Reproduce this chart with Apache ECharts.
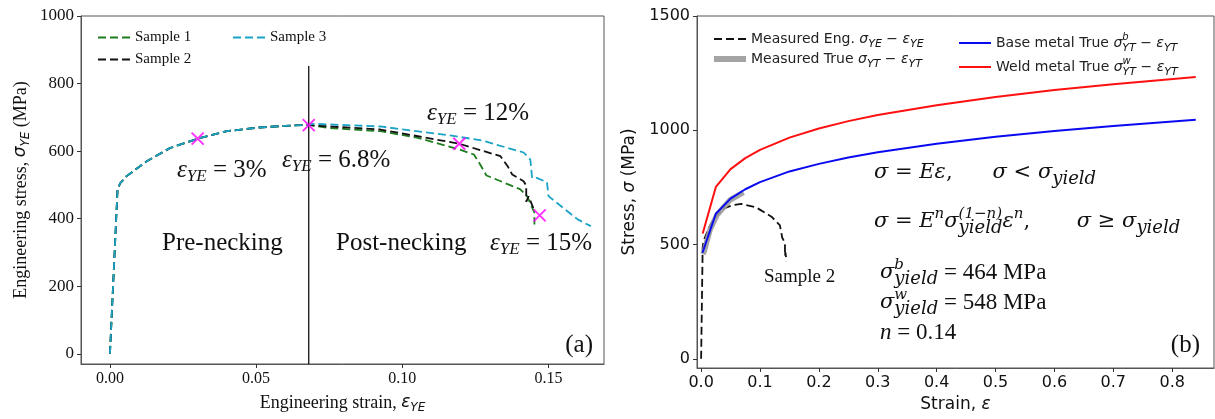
<!DOCTYPE html>
<html><head><meta charset="utf-8">
<script src="https://cdn.jsdelivr.net/npm/echarts@6/dist/echarts.min.js"></script>
<style>html,body{margin:0;padding:0;background:#fff}#c{width:1215px;height:419px}</style>
</head><body><div id="c"></div>
<script>
// ---------- Panel (a): engineering stress-strain ----------
const preStrain = [0, 0.0026, 0.0035, 0.0057, 0.0126, 0.0205, 0.0297, 0.040, 0.051, 0.060, 0.068];
const preStress = [0, 487, 505, 526, 570, 609, 636, 659, 670, 675, 678];
const s1Strain = [0.0742, 0.0925, 0.105, 0.1195, 0.1245, 0.126, 0.1288, 0.1345, 0.1404, 0.1427, 0.1452, 0.1452];
const s1Stress = [669, 659, 640, 605, 590, 570, 528, 508, 487, 467, 418, 383];
const s2Strain = [0.0695, 0.0925, 0.099, 0.1195, 0.1267, 0.1336, 0.136, 0.1376, 0.1415, 0.1424, 0.1424, 0.1432, 0.1450];
const s2Stress = [676, 664, 654, 622, 603, 585, 556, 531, 511, 498, 450, 466, 428];
const s3Strain = [0.0695, 0.0925, 0.1175, 0.127, 0.1415, 0.1438, 0.1444, 0.146, 0.1495, 0.150, 0.160, 0.1645];
const s3Stress = [681, 673, 645, 632, 596, 575, 521, 521, 508, 467, 398, 378];
const crossStrain = [0.03, 0.068, 0.1195, 0.147];
const crossStress = [637, 677, 622, 410];
const neckStrain = 0.068;
const neckLineStress = [-30, 852];
const aXTicks = [0, 0.05, 0.10, 0.15];
const aYTicks = [0, 200, 400, 600, 800, 1000];

// ---------- Panel (b): true stress-strain ----------
const trueStrain = [0.003, 0.005, 0.015, 0.027, 0.049, 0.072];
const trueStress = [458, 469, 564, 630, 695, 728];
const baseStrain = [0.0023, 0.025, 0.05, 0.075, 0.1, 0.15, 0.2, 0.25, 0.3, 0.4, 0.5, 0.6, 0.7, 0.84];
const baseStress = [464, 635, 701, 742, 773, 820, 853, 881, 904, 941, 972, 997, 1019, 1046];
const weldStrain = [0.0027, 0.025, 0.05, 0.075, 0.1, 0.15, 0.2, 0.25, 0.3, 0.4, 0.5, 0.6, 0.7, 0.84];
const weldStress = [548, 752, 830, 878, 914, 968, 1008, 1040, 1067, 1110, 1146, 1176, 1201, 1233];
const bXTicks = [0, 0.1, 0.2, 0.3, 0.4, 0.5, 0.6, 0.7, 0.8];
const bYTicks = [0, 500, 1000, 1500];

const zip = (xs, ys) => xs.map((x, i) => [x, ys[i]]);
const pre = zip(preStrain, preStress);
const sample1 = pre.concat(zip(s1Strain, s1Stress));
const sample2 = pre.concat(zip(s2Strain, s2Stress));
const sample3 = pre.concat(zip(s3Strain, s3Stress));

const SERIF = 'Liberation Serif';
const MATH = 'DejaVu Serif';
const SANS = 'DejaVu Sans';
const DASH = [8, 4];
const frame = '#555';

function axisCommon(font, size, ticks, fmt) {
  return {
    axisLine: { show: true, onZero: false, lineStyle: { color: frame, width: 1 } },
    axisTick: { show: true, inside: false, length: 4, lineStyle: { color: '#333' }, customValues: ticks },
    axisLabel: { show: true, color: '#111', fontFamily: font, fontSize: size, margin: 7, customValues: ticks, formatter: fmt },
    splitLine: { show: false }
  };
}

const subSans = { fontFamily: SANS, fontStyle: 'italic', fontSize: 11, lineHeight: 10, verticalAlign: 'bottom', color: '#111' };
const supSans = { fontFamily: SANS, fontStyle: 'italic', fontSize: 10, lineHeight: 10, verticalAlign: 'top', color: '#111', width: 0 };
const legRich = {
  t: { fontFamily: SANS, fontSize: 14, lineHeight: 22, color: '#222' },
  m: { fontFamily: SANS, fontStyle: 'italic', fontSize: 14, lineHeight: 22, color: '#222' },
  s: subSans,
  p: supSans
};
const legLabels = {
  'Eng': '{t|Measured Eng. }{m|σ}{s|YE}{t| − }{m|ε}{s|YE}',
  'True': '{t|Measured True }{m|σ}{s|YT}{t| − }{m|ε}{s|YT}',
  'Base': '{t|Base metal True }{m|σ}{p|b}{s|YT}{t| − }{m|ε}{s|YT}',
  'Weld': '{t|Weld metal True }{m|σ}{p|w}{s|YT}{t| − }{m|ε}{s|YT}'
};

const chart = echarts.init(document.getElementById('c'), null, { renderer: 'canvas' });

const serifRich = {
  e: { fontFamily: SERIF, fontStyle: 'italic', fontSize: 25, lineHeight: 30, fill: '#111' },
  s: { fontFamily: SERIF, fontStyle: 'italic', fontSize: 17, lineHeight: 14, verticalAlign: 'bottom', fill: '#111' },
  n: { fontFamily: SERIF, fontSize: 25, lineHeight: 30, fill: '#111' }
};
const mathRich = {
  v: { fontFamily: MATH, fontStyle: 'italic', fontSize: 21, lineHeight: 30, fill: '#111' },
  o: { fontFamily: MATH, fontSize: 21, lineHeight: 30, fill: '#111' },
  sb: { fontFamily: MATH, fontStyle: 'italic', fontSize: 18, lineHeight: 13, verticalAlign: 'bottom', fill: '#111' },
  sp: { fontFamily: MATH, fontStyle: 'italic', fontSize: 15, lineHeight: 13, verticalAlign: 'top', fill: '#111' },
  spw: { fontFamily: MATH, fontStyle: 'italic', fontSize: 15, lineHeight: 13, verticalAlign: 'top', fill: '#111', width: 0 },
  q: { fontFamily: SERIF, fontSize: 23, lineHeight: 30, fill: '#111' },
  qi: { fontFamily: SERIF, fontStyle: 'italic', fontSize: 23, lineHeight: 30, fill: '#111' }
};
function txt(x, y, text, rich, align) {
  return { type: 'text', x: x, y: y, z: 1, style: { text: text, rich: rich, align: align || 'left', verticalAlign: 'middle', fill: '#111' } };
}
const legBase = { itemWidth: 32, itemHeight: 14, itemStyle: { opacity: 0 } };

const option = {
  animation: false,
  backgroundColor: '#fff',
  grid: [
    { left: 81, top: 16, width: 523, height: 349, show: true, borderColor: frame, borderWidth: 1, containLabel: false },
    { left: 697, top: 16, width: 517, height: 352, show: true, borderColor: frame, borderWidth: 1, containLabel: false }
  ],
  xAxis: [
    Object.assign({ type: 'value', gridIndex: 0, min: -0.0099, max: 0.169,
      name: '{t|Engineering strain, }{m|ε}{s|YE}', nameLocation: 'middle', nameGap: 28,
      nameTextStyle: { rich: {
        t: { fontFamily: SERIF, fontSize: 18, color: '#111', lineHeight: 22 },
        m: { fontFamily: SANS, fontStyle: 'italic', fontSize: 17, color: '#111', lineHeight: 22 },
        s: { fontFamily: SANS, fontStyle: 'italic', fontSize: 12, color: '#111', lineHeight: 10, verticalAlign: 'bottom' } } }
    }, axisCommon(SERIF, 16, aXTicks, v => v.toFixed(2))),
    Object.assign({ type: 'value', gridIndex: 1, min: -0.007, max: 0.871,
      name: '{t|Strain, }{m|ε}', nameLocation: 'middle', nameGap: 28,
      nameTextStyle: { rich: {
        t: { fontFamily: SANS, fontSize: 17, color: '#111' },
        m: { fontFamily: SANS, fontStyle: 'italic', fontSize: 17, color: '#111' } } }
    }, axisCommon(SANS, 16, bXTicks, v => v.toFixed(1)))
  ],
  yAxis: [
    Object.assign({ type: 'value', gridIndex: 0, min: -30, max: 1000,
      name: '{t|Engineering stress, }{m|σ}{s|YE}{t| (MPa)}', nameLocation: 'middle', nameGap: 49, nameRotate: 90,
      nameTextStyle: { rich: {
        t: { fontFamily: SERIF, fontSize: 18, color: '#111', lineHeight: 22 },
        m: { fontFamily: SANS, fontStyle: 'italic', fontSize: 17, color: '#111', lineHeight: 22 },
        s: { fontFamily: SANS, fontStyle: 'italic', fontSize: 12, color: '#111', lineHeight: 10, verticalAlign: 'bottom' } } }
    }, axisCommon(SERIF, 17, aYTicks, v => String(v))),
    Object.assign({ type: 'value', gridIndex: 1, min: -40, max: 1500,
      name: '{t|Stress, }{m|σ}{t| (MPa)}', nameLocation: 'middle', nameGap: 59, nameRotate: 90,
      nameTextStyle: { rich: {
        t: { fontFamily: SANS, fontSize: 17, color: '#111' },
        m: { fontFamily: SANS, fontStyle: 'italic', fontSize: 17, color: '#111' } } }
    }, axisCommon(SANS, 16, bYTicks, v => String(v)))
  ],
  legend: [
    Object.assign({ data: ['Sample 1', 'Sample 2'], orient: 'vertical', left: 92, top: 25, itemGap: 7,
      textStyle: { fontFamily: SERIF, fontSize: 15, color: '#111' } }, legBase),
    Object.assign({ data: ['Sample 3'], orient: 'vertical', left: 227, top: 25, itemGap: 7,
      textStyle: { fontFamily: SERIF, fontSize: 15, color: '#111' } }, legBase),
    Object.assign({ data: ['Eng', { name: 'True', lineStyle: { width: 6 } }], orient: 'vertical', left: 706, top: 27, itemGap: 2,
      formatter: n => legLabels[n], textStyle: { rich: legRich } }, legBase),
    Object.assign({ data: ['Base', 'Weld'], orient: 'vertical', left: 953, top: 27, itemGap: 2,
      formatter: n => legLabels[n], textStyle: { rich: legRich } }, legBase)
  ],
  series: [
    { name: 'Sample 1', type: 'line', xAxisIndex: 0, yAxisIndex: 0, data: sample1, symbol: 'none', lineStyle: { color: '#1e7d1e', width: 1.8, type: DASH }, itemStyle: { color: '#1e7d1e' }, z: 3 },
    { name: 'Sample 2', type: 'line', xAxisIndex: 0, yAxisIndex: 0, data: sample2, symbol: 'none', lineStyle: { color: '#111', width: 1.8, type: DASH }, itemStyle: { color: '#111' }, z: 4 },
    { name: 'Sample 3', type: 'line', xAxisIndex: 0, yAxisIndex: 0, data: sample3, symbol: 'none', lineStyle: { color: '#1ba3c6', width: 1.8, type: DASH }, itemStyle: { color: '#1ba3c6' }, z: 5 },
    { name: 'neck', type: 'line', xAxisIndex: 0, yAxisIndex: 0, data: neckLineStress.map(v => [neckStrain, v]), symbol: 'none', silent: true, lineStyle: { color: '#111', width: 1.3 }, z: 6 },
    { name: 'marks', type: 'scatter', xAxisIndex: 0, yAxisIndex: 0, data: zip(crossStrain, crossStress), symbol: 'path://M0,0L10,10M10,0L0,10', symbolSize: 12,
      itemStyle: { color: 'rgba(0,0,0,0)', borderColor: '#ff00ff', borderWidth: 2 }, z: 7 },
    { name: 'Eng', type: 'line', xAxisIndex: 1, yAxisIndex: 1, data: sample2, symbol: 'none', lineStyle: { color: '#111', width: 1.8, type: DASH }, itemStyle: { color: '#111' }, z: 3 },
    { name: 'True', type: 'line', xAxisIndex: 1, yAxisIndex: 1, data: zip(trueStrain, trueStress), symbol: 'none', lineStyle: { color: '#9a9a9a', width: 5.5, opacity: 0.9 }, itemStyle: { color: '#9a9a9a' }, z: 4 },
    { name: 'Base', type: 'line', xAxisIndex: 1, yAxisIndex: 1, data: zip(baseStrain, baseStress), symbol: 'none', lineStyle: { color: '#0a0af0', width: 2 }, itemStyle: { color: '#0a0af0' }, z: 5 },
    { name: 'Weld', type: 'line', xAxisIndex: 1, yAxisIndex: 1, data: zip(weldStrain, weldStress), symbol: 'none', lineStyle: { color: '#ff1010', width: 2 }, itemStyle: { color: '#ff1010' }, z: 6 }
  ],
  graphic: [
    txt(177, 170, '{e|ε}{s|YE}{n| = 3%}', serifRich),
    txt(282, 160, '{e|ε}{s|YE}{n| = 6.8%}', serifRich),
    txt(427, 113, '{e|ε}{s|YE}{n| = 12%}', serifRich),
    txt(490, 243, '{e|ε}{s|YE}{n| = 15%}', serifRich),
    txt(162, 243, '{n|Pre-necking}', serifRich),
    txt(336, 243, '{n|Post-necking}', serifRich),
    txt(593, 345, '{n|(a)}', serifRich, 'right'),
    txt(874, 173, '{v|σ}{o| = }{v|Eε}{o|,      }{v|σ}{o| < }{v|σ}{sb|yield}', mathRich),
    txt(874, 222, '{v|σ}{o| = }{v|E}{sp|n}{v|σ}{spw|(1−n)}{sb|yield}{v|ε}{sp|n}{o|,       }{v|σ}{o| ≥ }{v|σ}{sb|yield}', mathRich),
    txt(880, 273, '{v|σ}{spw|b}{sb|yield}{q| = 464 MPa}', mathRich),
    txt(880, 303, '{v|σ}{spw|w}{sb|yield}{q| = 548 MPa}', mathRich),
    txt(880, 333, '{qi|n}{q| = 0.14}', mathRich),
    txt(1200, 345, '{n|(b)}', serifRich, 'right'),
    txt(764, 277, '{n|Sample 2}', { n: { fontFamily: SERIF, fontSize: 19, lineHeight: 24, fill: '#111' } })
  ]
};
chart.setOption(option);
</script>
</body></html>
